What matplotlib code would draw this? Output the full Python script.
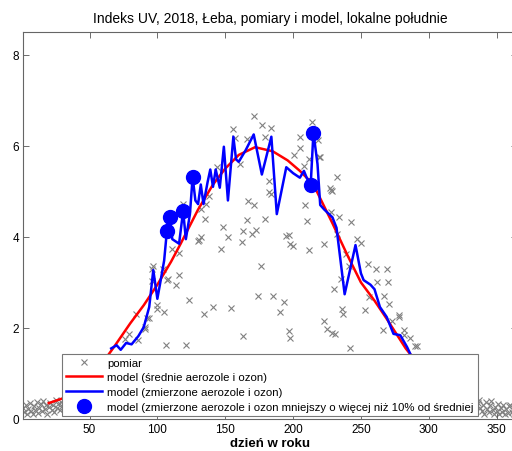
import matplotlib
matplotlib.use("Agg")
import matplotlib.pyplot as plt

plt.rcParams['font.family'] = ['Liberation Sans', 'DejaVu Sans']

# ---- data ------------------------------------------------------------
# measurements (day of year, UV index)
meas_day = [
    1, 2, 3, 4, 5, 6, 7, 8, 9, 10, 11, 12, 13, 14, 15, 16, 17, 18, 19, 20,
    21, 22, 23, 24, 25, 26, 27, 28, 29, 30, 31,
    76, 79, 84, 86, 91, 91, 92, 94, 96, 96, 97, 100, 100, 104, 105, 106, 107,
    108, 111, 114, 116, 116, 119, 121, 123, 130, 131, 132, 132, 134, 135, 136,
    138, 141, 144, 147, 148, 152, 154, 156, 157, 161, 162, 163, 163, 166, 166,
    167, 170, 171, 171, 173, 174, 176, 177, 179, 179, 182, 182, 184, 184, 185,
    190, 193, 195, 197, 197, 198, 198, 200, 201, 205, 205, 208, 209, 210, 212,
    212, 214, 218, 219, 220, 223, 223, 225, 227, 228, 228, 229, 229, 230, 231,
    232, 232, 234, 235, 236, 237, 239, 241, 242, 243, 247, 250, 253, 255, 256,
    261, 262, 266, 267, 269, 270, 271, 273, 278, 278, 282, 282, 286, 290, 291,
    336, 337, 338, 339, 340, 341, 342, 343, 344, 345, 346, 347, 348, 349, 350,
    351, 352, 353, 354, 355, 356, 357, 358, 359, 360, 361, 362, 363, 364, 365,
]
meas_uv = [
    0.25, 0.15, 0.30, 0.12, 0.22, 0.35, 0.18, 0.10, 0.28, 0.20, 0.38, 0.14,
    0.25, 0.32, 0.17, 0.40, 0.22, 0.30, 0.12, 0.27, 0.36, 0.20, 0.31, 0.15,
    0.42, 0.25, 0.33, 0.19, 0.38, 0.28, 0.22,
    1.76, 1.87, 2.30, 1.73, 1.97, 2.02, 2.22, 2.22, 3.04, 3.30, 3.35, 2.51,
    2.42, 3.30, 2.35, 1.62, 3.06, 3.08, 3.73, 2.95, 3.64, 3.17, 4.72, 1.63,
    2.62, 3.92, 3.93, 4.61, 3.99, 2.31, 4.39, 4.72, 4.89, 2.47, 5.53, 3.73,
    4.21, 3.99, 2.44, 6.38, 6.17, 5.60, 3.88, 4.12, 1.83, 6.15, 4.36, 4.78,
    4.06, 6.66, 4.69, 4.15, 2.70, 3.37, 6.46, 6.20, 4.39, 5.23, 4.98, 6.39,
    4.94, 2.71, 2.35, 2.57, 4.03, 4.04, 1.93, 3.84, 1.78, 3.81, 5.80, 6.20,
    5.96, 5.56, 4.71, 4.34, 5.71, 3.72, 6.53, 6.13, 5.75, 5.76, 3.84, 2.15,
    1.98, 5.07, 5.04, 4.54, 5.00, 1.89, 2.86, 1.87, 5.32, 4.06, 4.43, 3.08,
    2.42, 2.30, 3.63, 3.37, 1.56, 4.33, 3.95, 3.86, 2.40, 3.41, 2.68, 3.30,
    3.00, 1.96, 2.71, 3.30, 3.00, 2.53, 2.16, 2.29, 2.24, 1.96, 1.84, 1.78,
    1.60, 1.60,
    0.35, 0.42, 0.25, 0.18, 0.30, 0.12, 0.38, 0.22, 0.15, 0.30, 0.40, 0.20,
    0.12, 0.27, 0.18, 0.33, 0.10, 0.24, 0.16, 0.30, 0.12, 0.22, 0.14, 0.28,
    0.30, 0.15, 0.20, 0.10, 0.18, 0.25,
]

# model with mean aerosols and ozone
mean_day = [20, 30, 40, 50, 60, 68, 80, 90, 100, 110, 117, 130, 141, 150,
            160, 172, 185, 196, 205, 215, 229, 240, 250, 260, 269, 283, 295,
            305, 315, 325]
mean_uv = [0.35, 0.45, 0.65, 0.90, 1.25, 1.58, 2.10, 2.50, 2.95, 3.45, 3.84,
           4.60, 5.15, 5.50, 5.80, 5.97, 5.88, 5.68, 5.45, 5.15, 4.30, 3.60,
           3.00, 2.60, 2.20, 1.55, 1.10, 0.80, 0.55, 0.40]

# model with measured aerosols and ozone
meas_model_day = [
    66, 70, 73, 77, 81, 86, 90, 94, 97, 100, 102, 105, 107, 109, 111, 116,
    119, 121, 124, 126, 128, 130, 132, 134, 137, 139, 141, 143, 146, 149,
    152, 156, 158, 160, 165, 171, 177, 184, 188, 195, 200, 205, 208, 210,
    213, 215, 218, 220, 223, 229, 232, 238, 246, 250, 252, 257, 260, 264,
    269, 274, 279, 284, 290,
]
meas_model_uv = [
    1.55, 1.62, 1.52, 1.67, 1.64, 1.82, 2.02, 2.46, 3.27, 2.64, 2.97, 3.48,
    4.12, 4.44, 3.95, 3.85, 4.57, 3.95, 4.50, 5.32, 4.80, 4.72, 5.15, 4.72,
    5.20, 5.48, 5.10, 5.48, 5.08, 5.98, 4.80, 6.20, 5.70, 5.65, 5.90, 6.25,
    5.37, 6.20, 4.50, 5.53, 5.40, 5.30, 5.45, 5.30, 5.15, 6.29, 5.60, 4.70,
    4.60, 4.43, 4.20, 2.74, 3.82, 3.20, 3.05, 2.95, 2.85, 2.46, 2.24, 1.87,
    1.84, 1.58, 1.20,
]

# days where the measured-input model departs from the mean by > 10 %
flag_day = [107, 109, 119, 126, 213, 215]
flag_uv = [4.12, 4.44, 4.57, 5.32, 5.15, 6.29]

# ---- plot -------------------------------------------------------------
fig = plt.figure(figsize=(5.12, 4.52), dpi=100)
ax = fig.add_axes([23 / 512, 32 / 452, 494 / 512, 387 / 452])

ax.plot(meas_day, meas_uv, "x", color="#808080", ms=4, mew=0.8,
        label="pomiar", zorder=1)
ax.plot(mean_day, mean_uv, "-", color="#ff0000", lw=1.8,
        label="model (średnie aerozole i ozon)", zorder=2)
ax.plot(meas_model_day, meas_model_uv, "-", color="#0000ff", lw=1.8,
        label="model (zmierzone aerozole i ozon)", zorder=3)
ax.plot(flag_day, flag_uv, "o", color="#0000ff", ms=10,
        label="model (zmierzone aerozole i ozon mniejszy o więcej niż 10% od średniej",
        zorder=4)

ax.set_xlim(1, 365)
ax.set_ylim(0, 8.5)
ax.set_xticks([50, 100, 150, 200, 250, 300, 350])
ax.set_yticks([0, 2, 4, 6, 8])
ax.tick_params(direction="in", top=True, right=True, length=4, width=0.6,
               color="#555555", labelsize=8.5, pad=3)
for sp in ax.spines.values():
    sp.set_color("#666666")
    sp.set_linewidth(0.8)

ax.set_title("Indeks UV, 2018, Łeba, pomiary i model, lokalne południe",
             fontsize=10, pad=7)
ax.set_xlabel("dzień w roku", fontsize=9.5, fontweight="bold", labelpad=1)

leg = ax.legend(loc="lower left", bbox_to_anchor=(0.079, 0.008, 0.842, 0.17),
                mode="expand", borderaxespad=0, fancybox=False,
                framealpha=1, edgecolor="#777777", fontsize=8.2,
                handlelength=3.2, handletextpad=0.4, labelspacing=0.42,
                borderpad=0.35)
leg.get_frame().set_linewidth(0.8)

fig.savefig("out.png", dpi=100)
